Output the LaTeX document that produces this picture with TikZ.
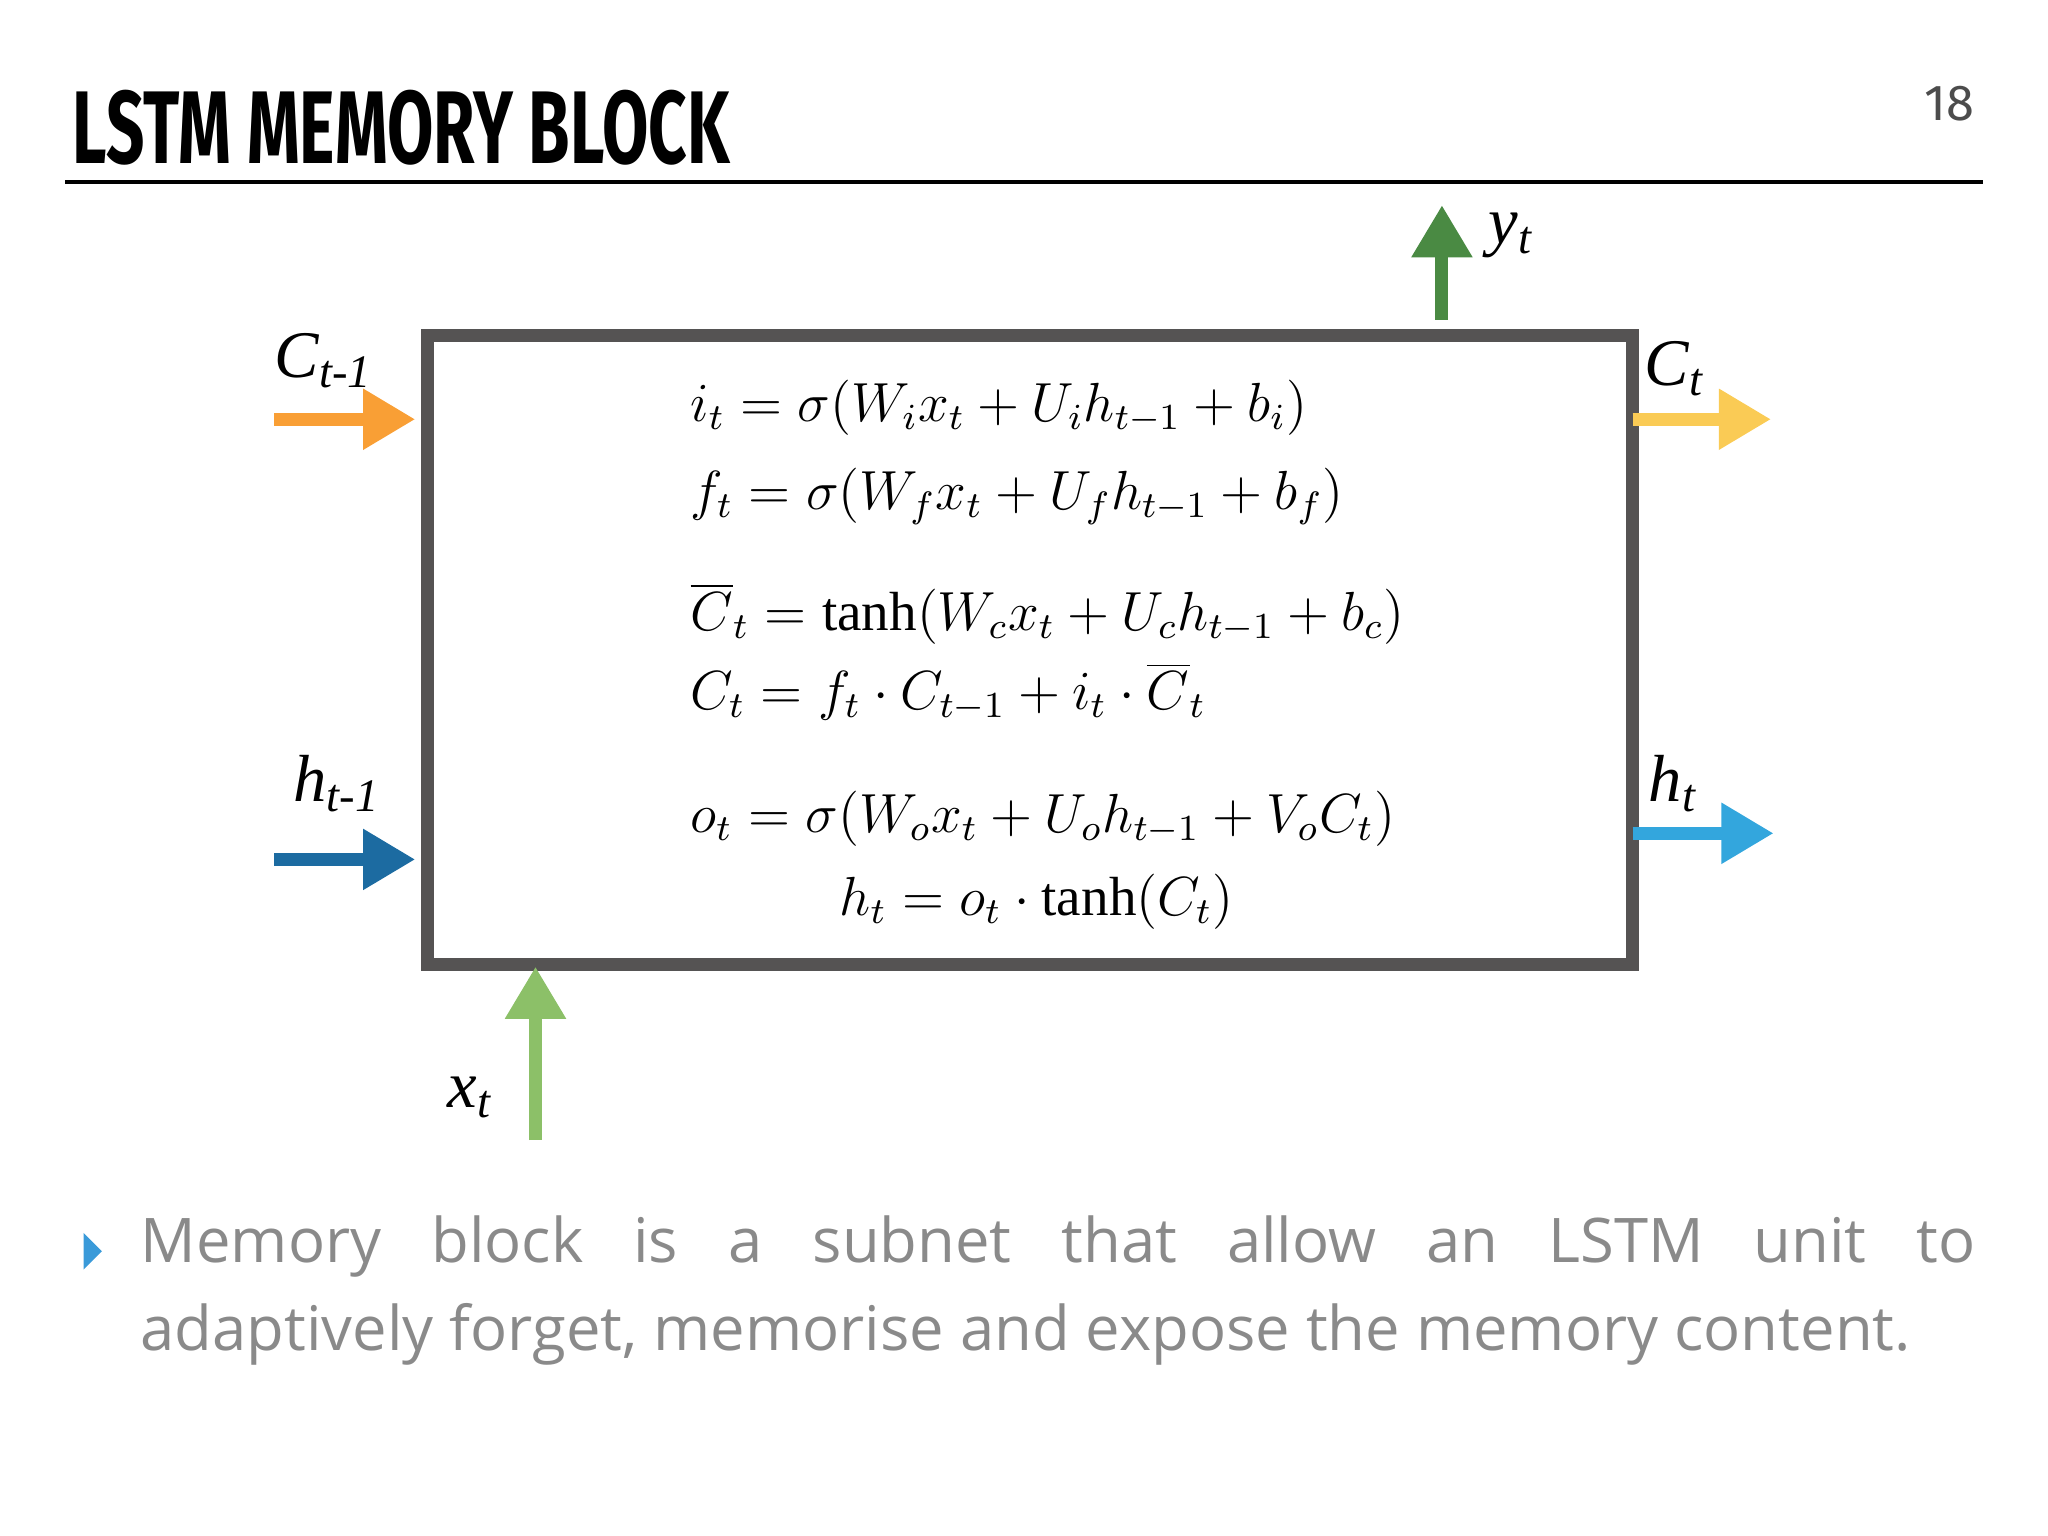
\documentclass[tikz,border=0pt]{standalone}
\usepackage{fontspec}
\setmainfont{Liberation Serif}
\newfontfamily\slidefont{Open Sans}
\newfontfamily\titlefont{Fira Sans}
\usetikzlibrary{arrows.meta}
\definecolor{boxgray}{HTML}{555353}
\definecolor{corange}{HTML}{F99F35}
\definecolor{cyellow}{HTML}{FACB55}
\definecolor{hdark}{HTML}{1C6BA1}
\definecolor{hlight}{HTML}{33A6DD}
\definecolor{gdark}{HTML}{4A8A43}
\definecolor{glight}{HTML}{8CC068}
\definecolor{txtgray}{HTML}{8A8A8A}
\definecolor{bullet}{HTML}{3A9AD9}
\tikzset{
  flow/.style={line width=1mm, -{Triangle[length=4mm,width=4.4mm]}},
  lbl/.style={font=\fontsize{14.5}{14.5}\selectfont\itshape},
  eq/.style={anchor=west, inner sep=0pt, font=\fontsize{12}{12}\selectfont}
}
\begin{document}
\begin{tikzpicture}[x=0.01cm, y=-0.01cm]
\useasboundingbox (0,0) rectangle (1568,1176);
% title
\node[anchor=base west, inner sep=0pt] (title) at (55,125)
  {\scalebox{0.65}[1]{\titlefont\bfseries\fontsize{22.5}{22.5}\selectfont LSTM MEMORY BLOCK}};
\node[anchor=base east, inner sep=0pt, text=black!70, font=\titlefont\fontsize{11}{11}\selectfont] (page) at (1512,92) {18};
\draw[line width=0.3mm] (50,139) coordinate (r1) -- (1518,139) coordinate (r2);
% block
\node[draw=boxgray, line width=1mm, minimum width=9.22cm, minimum height=4.81cm, anchor=north west] (box) at (322,252) {};
% equations
\node[eq] (e1) at (528,312) {$i_t = \sigma\bigl(W_i x_t + U_i h_{t-1} + b_i\bigr)$};
\node[eq] (e2) at (528,380) {$f_t = \sigma\bigl(W_f x_t + U_f h_{t-1} + b_f\bigr)$};
\node[eq] (e3) at (528,470) {$\overline{C}_t = \tanh\bigl(W_c x_t + U_c h_{t-1} + b_c\bigr)$};
\node[eq] (e4) at (528,530) {$C_t = f_t \cdot C_{t-1} + i_t \cdot \overline{C}_t$};
\node[eq] (e5) at (528,627) {$o_t = \sigma\bigl(W_o x_t + U_o h_{t-1} + V_o C_t\bigr)$};
\node[eq] (e6) at (642,690) {$h_t = o_t \cdot \tanh\bigl(C_t\bigr)$};
% arrows
\coordinate (cin) at (210,321); \coordinate (cinE) at (318,321);
\coordinate (hin) at (210,658); \coordinate (hinE) at (318,658);
\coordinate (cout) at (1250,321); \coordinate (coutE) at (1356,321);
\coordinate (hout) at (1250,638); \coordinate (houtE) at (1358,638);
\coordinate (yS) at (1104,245); \coordinate (yE) at (1104,157);
\coordinate (xS) at (410,873); \coordinate (xE) at (410,740);
\draw[flow, corange] (cin) -- (cinE);
\draw[flow, hdark] (hin) -- (hinE);
\draw[flow, cyellow] (cout) -- (coutE);
\draw[flow, hlight] (hout) -- (houtE);
\draw[flow, gdark] (yS) -- (yE);
\draw[flow, glight] (xS) -- (xE);
% labels
\node[lbl] (lc1) at (248,276) {C\textsubscript{t-1}};
\node[lbl] (lh1) at (258,600) {h\textsubscript{t-1}};
\node[lbl] (lc) at (1282,282) {C\textsubscript{t}};
\node[lbl] (lh) at (1281,600) {h\textsubscript{t}};
\node[lbl] (ly) at (1157,180) {y\textsubscript{t}};
\node[lbl] (lx) at (360,840) {x\textsubscript{t}};
% bullet text
\fill[bullet] (64,944) -- (78,958) -- (64,972) -- cycle;
\node[anchor=north west, inner sep=0pt, text width=14.04cm, align=justify, text=txtgray,
  font=\slidefont\fontsize{13.4}{19.2}\selectfont] (body) at (107,930)
  {Memory block is a subnet that allow an LSTM unit to\linebreak adaptively forget, memorise and expose the memory content.};
\end{tikzpicture}
\end{document}
